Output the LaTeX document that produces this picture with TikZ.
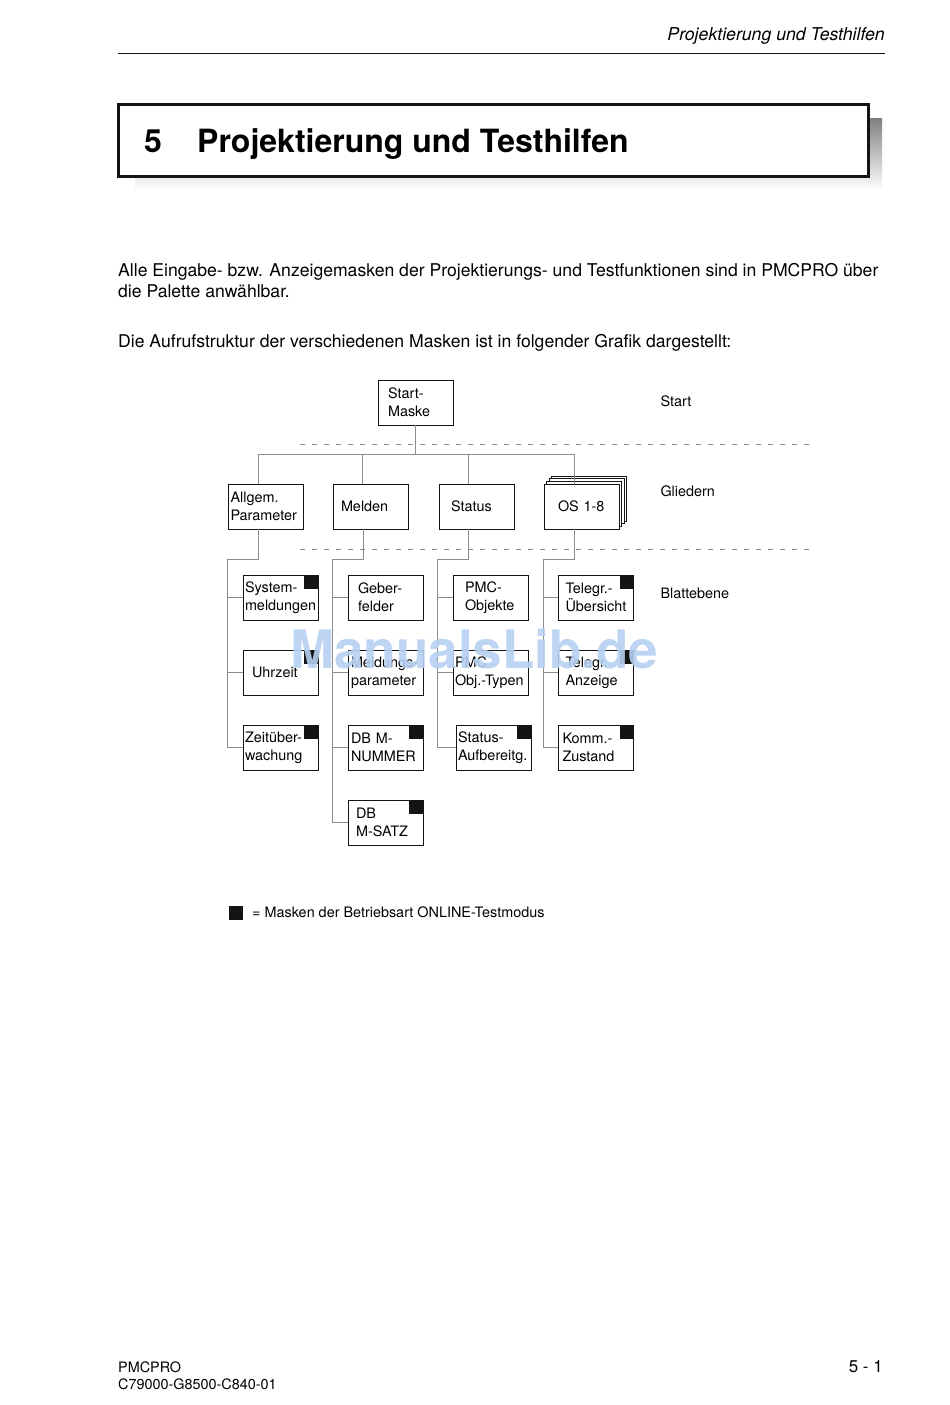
\documentclass[tikz,border=0pt]{standalone}
\usepackage{fontspec}
\setmainfont{TeX Gyre Heros}
\usetikzlibrary{positioning,calc}
\definecolor{ink}{HTML}{141414}
\definecolor{wire}{HTML}{8C8C8C}
\definecolor{shade}{HTML}{ADADAD}
\definecolor{wmblue}{HTML}{B6D0F2}
\newcommand\fs[2]{\fontsize{#1}{#2}\selectfont}

\begin{document}
\begin{tikzpicture}[x=1pt,y=-1pt,font=\fs{14.4}{18},
  maskbox/.style={draw=ink,line width=.8pt,fill=white,minimum width=75pt,minimum height=45pt,inner sep=0pt,align=left},
  tree/.style={draw=wire,line width=.8pt},
  online/.style={fill=ink,minimum size=14pt,inner sep=0pt,anchor=north east},
  levelline/.style={draw=wire,line width=.7pt,dash pattern=on 5pt off 7pt},
  txt/.style={inner sep=0pt,anchor=base west}]
  \useasboundingbox (0,0) rectangle (950,1405);
  % running head
  \node[inner sep=0pt,anchor=base east,font=\fs{17.7}{21}\itshape] (runhead) at (885,41) {Projektierung und Testhilfen};
  \draw[ink,line width=.8pt] (118,53)--(885,53);
  % chapter title
  \fill[shade] (135,118) rectangle (882,190);
  \draw[ink,line width=3pt,fill=white] (118,104) rectangle (868,176);
  \node[txt,font=\fs{32}{36}\bfseries] (chapno) at (144,152) {5};
  \node[txt,font=\fs{32}{36}\bfseries] (chaptitle) at (197,152) {Projektierung und Testhilfen};
  % intro text
  \node[txt,font=\fs{17.6}{21}] (intro1) at (118,276) {Alle Eingabe- bzw. Anzeigemasken der Projektierungs- und Testfunktionen sind in PMCPRO über};
  \node[txt,font=\fs{17.6}{21}] (intro2) at (118,297) {die Palette anwählbar.};
  \node[txt,font=\fs{17.6}{21}] (intro3) at (118,347) {Die Aufrufstruktur der verschiedenen Masken ist in folgender Grafik dargestellt:};
  % level separators
  \draw[levelline] (300,444)--(812,444);
  \draw[levelline] (300,549)--(812,549);
  \node[anchor=west] (lvstart) at (657,401) {Start};
  \node[anchor=west] (lvgliedern) at (657,491) {Gliedern};
  \node[anchor=west] (lvblatt) at (657,593) {Blattebene};
  % start and level 2
  \node[maskbox,text width=55pt] (start) at (415.5,402.5) {Start-\\Maske};
  \node[maskbox,text width=71pt] (allg) at (266,506.5) {Allgem.\\Parameter};
  \node[maskbox,text width=59pt] (meld) at (370.5,506.5) {Melden};
  \node[maskbox,text width=51pt] (stat) at (476.5,506.5) {Status};
  \foreach \k in {3,2,1}{
    \node[maskbox,line width=.6pt] (os\k) at ({581.5+2.5*\k},{506.5-2.7*\k}) {};
  }
  \node[maskbox,text width=47pt] (os) at (581.5,506.5) {OS 1-8};
  % level 3
  \node[maskbox,text width=71pt] (sysm) at (280.5,597.5) {System-\\meldungen};
  \node[maskbox,text width=57pt] (uhr) at (280.5,672.5) {Uhrzeit};
  \node[maskbox,text width=71pt] (zeit) at (280.5,747.5) {Zeitüber-\\wachung};
  \node[maskbox,text width=55pt] (geber) at (385.5,597.5) {Geber-\\felder};
  \node[maskbox,text width=69pt] (mpar) at (385.5,672.5) {Meldungs-\\parameter};
  \node[maskbox,text width=69pt] (dbnr) at (385.5,747.5) {DB M-\\NUMMER};
  \node[maskbox,text width=59pt] (dbsatz) at (385.5,822.5) {DB\\M-SATZ};
  \node[maskbox,text width=51pt] (pmcobj) at (490.5,597.5) {PMC-\\Objekte};
  \node[maskbox,text width=71pt] (pmctyp) at (490.5,672.5) {PMC\\Obj.-Typen};
  \node[maskbox,text width=71pt] (staufb) at (493.5,747.5) {Status-\\Aufbereitg.};
  \node[maskbox,text width=61pt] (tuebers) at (596,597.5) {Telegr.-\\Übersicht};
  \node[maskbox,text width=61pt] (tanz) at (596,672.5) {Telegr.\\Anzeige};
  \node[maskbox,text width=67pt] (komm) at (596,747.5) {Komm.-\\Zustand};
  \foreach \n in {sysm,uhr,zeit,dbnr,dbsatz,staufb,tuebers,tanz,komm}{
    \node[online] (\n-on) at (\n.north east) {};
  }
  % tree
  \draw[tree] (start.south) -- ++(0,30);
  \draw[tree] ([xshift=-8pt]allg.north) -- ++(0,-29) -| ([xshift=-7.5pt]os.north);
  \foreach \n in {meld,stat}{
    \draw[tree] ([xshift=-8pt]\n.north) -- ++(0,-29);
  }
  \draw[tree] ([xshift=-8pt]allg.south) -- ++(0,30) -| ([xshift=-15pt]zeit.west) -- (zeit.west);
  \draw[tree] ([xshift=-7.5pt]meld.south) -- ++(0,30) -| ([xshift=-15pt]dbsatz.west) -- (dbsatz.west);
  \draw[tree] ([xshift=-8.5pt]stat.south) -- ++(0,30) -| ([xshift=-18pt]staufb.west) -- (staufb.west);
  \draw[tree] ([xshift=-7.5pt]os.south) -- ++(0,30) -| ([xshift=-15pt]komm.west) -- (komm.west);
  \foreach \n in {sysm,uhr,geber,mpar,dbnr,pmcobj,pmctyp,tuebers,tanz}{
    \draw[tree] ([xshift=-15pt]\n.west) -- (\n.west);
  }
  % legend
  \node[online,anchor=center] (legkey) at (236,912.5) {};
  \node[txt] (legtext) at (252,917) {= Masken der Betriebsart ONLINE-Testmodus};
  % watermark
  \node[txt,font=\fs{53}{60}\bfseries,text=wmblue,opacity=.9] (wmark) at (290,668) {ManualsLib.de};
  % footer
  \node[txt] (foot1) at (118,1372) {PMCPRO};
  \node[txt] (foot2) at (118,1389) {C79000-G8500-C840-01};
  \node[inner sep=0pt,anchor=base east,font=\fs{17}{20}] (pageno) at (883,1372) {5 - 1};
\end{tikzpicture}
\end{document}
